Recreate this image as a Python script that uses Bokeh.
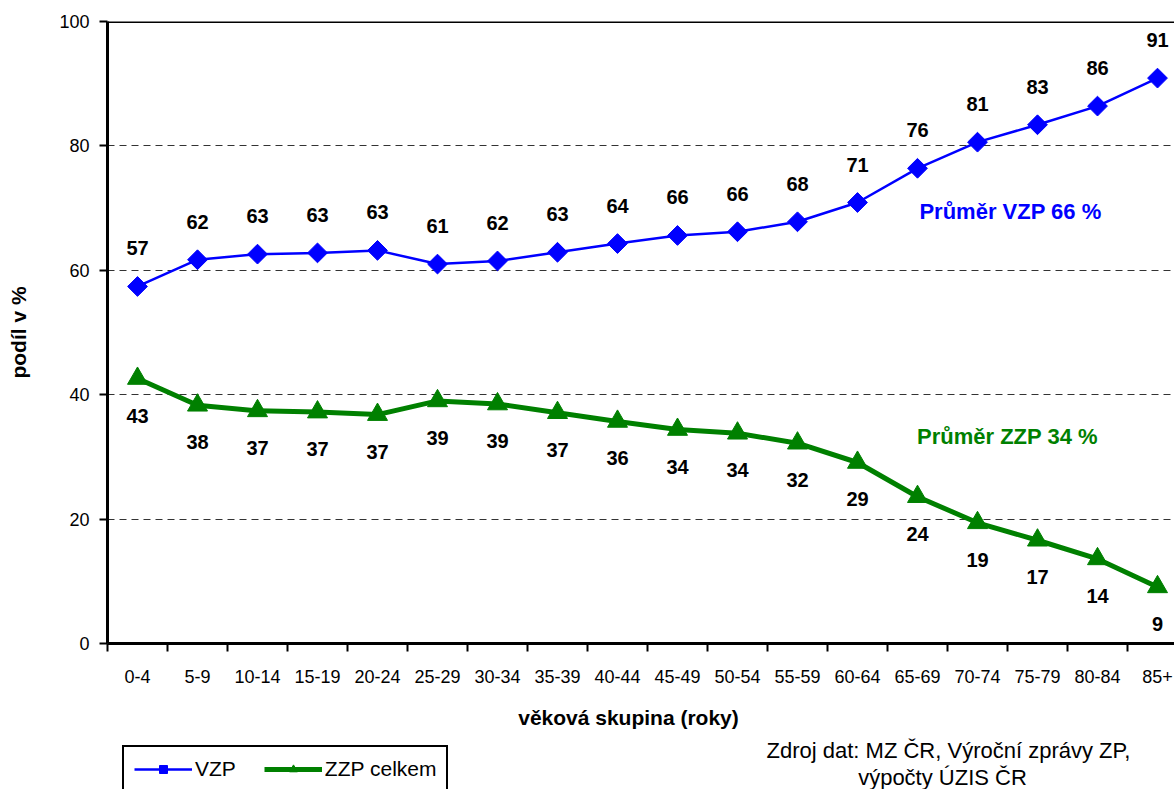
import math
from bokeh.plotting import figure
from bokeh.layouts import column
from bokeh.models import Range1d, FixedTicker, Span, Label, Legend, LegendItem, ColumnDataSource
from bokeh.core.properties import value
from bokeh.embed import file_html
from bokeh.resources import INLINE

# ---------------- data ----------------
categories = ["0-4", "5-9", "10-14", "15-19", "20-24", "25-29", "30-34", "35-39", "40-44",
              "45-49", "50-54", "55-59", "60-64", "65-69", "70-74", "75-79", "80-84", "85+"]
vzp = [57.4, 61.7, 62.6, 62.8, 63.2, 61.0, 61.5, 62.9, 64.3,
       65.6, 66.2, 67.8, 70.9, 76.4, 80.6, 83.4, 86.4, 90.9]
zzp = [42.6, 38.3, 37.4, 37.2, 36.8, 39.0, 38.5, 37.1, 35.7,
       34.4, 33.8, 32.2, 29.1, 23.6, 19.4, 16.6, 13.6, 9.1]
y_ticks = [0, 20, 40, 60, 80, 100]
avg_vzp = 66
avg_zzp = 34
series_names = ["VZP", "ZZP celkem"]
x_title = "věková skupina (roky)"
y_title = "podíl v %"
source_note = ["Zdroj dat: MZ ČR, Výroční zprávy ZP,", "výpočty ÚZIS ČR"]

FONT = "Liberation Sans"
BLUE = "#0000FF"
GREEN = "#008000"


def rnd(v):
    return str(int(math.floor(v + 0.5)))


xs = list(range(len(categories)))
src = ColumnDataSource(dict(
    x=xs, vzp=vzp, zzp=zzp,
    vzp_lab=[rnd(v) for v in vzp],
    zzp_lab=[rnd(v) for v in zzp],
))

FRAME_W = 1067
CAT_W = 60.0
LEFT = 107

p = figure(
    frame_width=FRAME_W, frame_height=622,
    min_border_left=LEFT, min_border_right=0, min_border_top=21, min_border_bottom=50,
    x_range=Range1d(-0.5, -0.5 + FRAME_W / CAT_W),
    y_range=Range1d(0, 100),
    output_backend="svg", toolbar_location=None,
    background_fill_color="white", border_fill_color="white",
)
p.outline_line_color = None
p.xgrid.visible = False

# y grid
p.ygrid.ticker = FixedTicker(ticks=y_ticks)
p.ygrid.grid_line_color = "#333333"
p.ygrid.grid_line_dash = "7 5"
p.ygrid.grid_line_width = 1

# top border line
p.add_layout(Span(location=100, dimension="width", line_color="black", line_width=3))

# x axis
xa = p.xaxis[0]
xa.ticker = FixedTicker(ticks=xs, minor_ticks=[i - 0.5 for i in range(len(categories) + 1)])
xa.major_label_overrides = {i: c for i, c in enumerate(categories)}
xa.major_tick_out = 0
xa.major_tick_in = 0
xa.minor_tick_out = 8
xa.minor_tick_in = 0
xa.minor_tick_line_width = 2
xa.minor_tick_line_color = "black"
xa.axis_line_width = 3
xa.axis_line_color = "black"
xa.major_label_text_font = FONT
xa.major_label_text_font_size = "18px"
xa.major_label_text_color = "black"
xa.major_label_standoff = 18

# y axis
ya = p.yaxis[0]
ya.ticker = FixedTicker(ticks=y_ticks)
ya.major_tick_out = 8
ya.major_tick_in = 0
ya.major_tick_line_width = 2
ya.major_tick_line_color = "black"
ya.minor_tick_line_color = None
ya.axis_line_width = 3
ya.axis_line_color = "black"
ya.major_label_text_font = FONT
ya.major_label_text_font_size = "18px"
ya.major_label_text_color = "black"
ya.major_label_standoff = 10
ya.axis_label = y_title
ya.axis_label_text_font = FONT
ya.axis_label_text_font_style = "bold"
ya.axis_label_text_font_size = "21px"
ya.axis_label_text_color = "black"
ya.axis_label_standoff = 26

# series
p.line("x", "vzp", source=src, line_color=BLUE, line_width=2.5)
p.scatter("x", "vzp", source=src, marker="square", angle=math.pi / 4, size=14,
          fill_color=BLUE, line_color=BLUE)
p.line("x", "zzp", source=src, line_color=GREEN, line_width=5)
p.scatter("x", "zzp", source=src, marker="triangle", size=20,
          fill_color=GREEN, line_color=GREEN)

# data labels
p.text("x", "vzp", text="vzp_lab", source=src, text_align="center", text_baseline="middle",
       y_offset=-38, text_font=value(FONT), text_font_style="bold", text_font_size="20px",
       text_color="black")
p.text("x", "zzp", text="zzp_lab", source=src, text_align="center", text_baseline="middle",
       y_offset=37, text_font=value(FONT), text_font_style="bold", text_font_size="20px",
       text_color="black")

# average annotations
p.add_layout(Label(x=14.55, y=69.5, text=f"Průměr VZP {avg_vzp} %", text_align="center",
                   text_baseline="middle", text_font=FONT, text_font_style="bold",
                   text_font_size="22px", text_color=BLUE))
p.add_layout(Label(x=14.5, y=33.3, text=f"Průměr ZZP {avg_zzp} %", text_align="center",
                   text_baseline="middle", text_font=FONT, text_font_style="bold",
                   text_font_size="22px", text_color=GREEN))

# ---------------- bottom strip: x title, legend, source note ----------------
# data ranges chosen so that the series themselves are out of view; only the legend shows
p2 = figure(
    frame_width=FRAME_W, frame_height=96,
    min_border_left=LEFT, min_border_right=0, min_border_top=0, min_border_bottom=0,
    x_range=Range1d(-200, -199), y_range=Range1d(-200, -199),
    output_backend="svg", toolbar_location=None,
    x_axis_type=None, y_axis_type=None,
    background_fill_color="white", border_fill_color="white",
)
p2.outline_line_color = None
p2.grid.visible = False

k1 = p2.line("x", "vzp", source=src, line_color=BLUE, line_width=2.5)
m1 = p2.scatter("x", "vzp", source=src, marker="square", angle=math.pi / 4, size=14,
                fill_color=BLUE, line_color=BLUE)
k2 = p2.line("x", "zzp", source=src, line_color=GREEN, line_width=5)
m2 = p2.scatter("x", "zzp", source=src, marker="triangle", size=20,
                fill_color=GREEN, line_color=GREEN)

p2.add_layout(Label(x=521, y=72, x_units="screen", y_units="screen",
                    text=x_title, text_align="center", text_baseline="middle",
                    text_font=FONT, text_font_style="bold", text_font_size="21px",
                    text_color="black"))

legend = Legend(
    items=[LegendItem(label=series_names[0], renderers=[k1, m1]),
           LegendItem(label=series_names[1], renderers=[k2, m2])],
    orientation="horizontal", location=(15, -4),
    glyph_width=58, glyph_height=20, label_standoff=3, spacing=28, padding=10, margin=0,
    border_line_color="black", border_line_alpha=1.0, border_line_width=2,
    background_fill_color="white", background_fill_alpha=1.0,
    label_text_font=FONT, label_text_font_size="21px", label_text_color="black",
)
p2.add_layout(legend)

p2.add_layout(Label(x=841, y=39, x_units="screen", y_units="screen",
                    text=source_note[0], text_align="center",
                    text_baseline="middle", text_font=FONT, text_font_size="22px",
                    text_color="black"))
p2.add_layout(Label(x=835, y=12, x_units="screen", y_units="screen",
                    text=source_note[1], text_align="center",
                    text_baseline="middle", text_font=FONT, text_font_size="22px",
                    text_color="black"))

layout = column(p, p2, spacing=0)
open("out.html", "w").write(file_html(layout, INLINE))
